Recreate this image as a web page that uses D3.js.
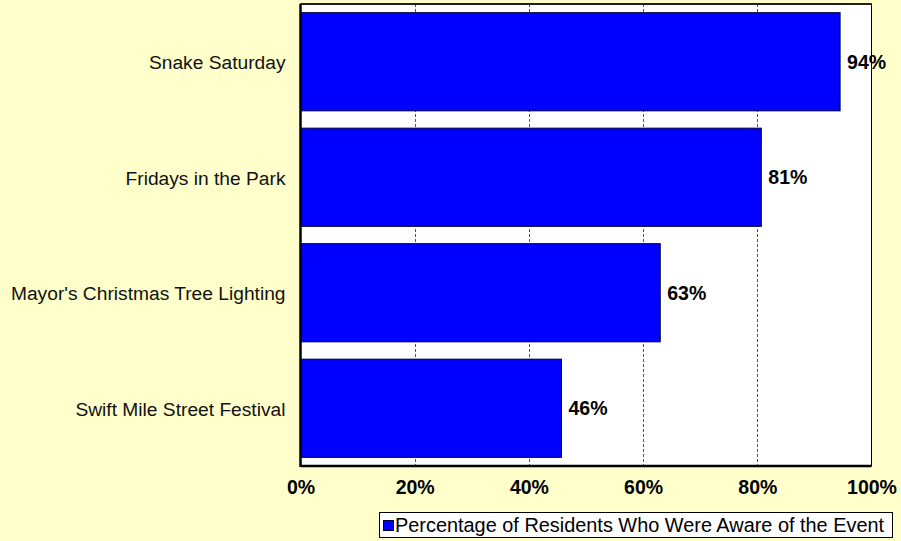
<!DOCTYPE html>
<html><head><meta charset="utf-8">
<script src="https://cdn.jsdelivr.net/npm/d3@7"></script>
<style>
html,body{margin:0;padding:0;background:#FFFFCC;}
svg{display:block;font-family:Arial,"Liberation Sans",sans-serif;}
</style></head><body>
<svg id="c" width="901" height="541"></svg>
<script>
const categories = ["Snake Saturday","Fridays in the Park","Mayor's Christmas Tree Lighting","Swift Mile Street Festival"];
const values = [94.5, 80.7, 63.0, 45.7];
const valueLabels = ["94%","81%","63%","46%"];
const ticks = [0,20,40,60,80,100];
const tickLabels = ["0%","20%","40%","60%","80%","100%"];
const seriesName = "Percentage of Residents Who Were Aware of the Event";

const svg = d3.select("#c");
const L=300.5, R=871.5, T=4, B=466;
const x = d3.scaleLinear().domain([0,100]).range([L,R]);
const y = d3.scaleBand().domain(categories).range([T,B]).paddingInner(0.15).paddingOuter(0.075);

svg.append("rect").attr("width",901).attr("height",541).attr("fill","#FFFFCC");
svg.append("rect").attr("x",L).attr("y",T).attr("width",R-L).attr("height",B-T).attr("fill","#fff");

// gridlines
svg.append("g").selectAll("line").data(ticks.slice(1,-1)).join("line")
  .attr("x1",d=>Math.round(x(d))+0.5).attr("x2",d=>Math.round(x(d))+0.5)
  .attr("y1",T).attr("y2",B)
  .attr("stroke","#555").attr("stroke-width",1).attr("stroke-dasharray","3,2");

// bars
svg.append("g").selectAll("rect").data(values).join("rect")
  .attr("x",L).attr("y",(d,i)=>y(categories[i]))
  .attr("width",d=>x(d)-L).attr("height",y.bandwidth())
  .attr("fill","#0000FF").attr("stroke","#000033").attr("stroke-width",1);

// value labels
svg.append("g").selectAll("text").data(values).join("text")
  .attr("x",d=>x(d)+7).attr("y",(d,i)=>y(categories[i])+y.bandwidth()/2)
  .attr("dy","0.36em").attr("font-size",19.5).attr("font-weight","bold").attr("fill","#000")
  .text((d,i)=>valueLabels[i]);

// frame
svg.append("rect").attr("x",L).attr("y",T).attr("width",R-L).attr("height",B-T)
  .attr("fill","none").attr("stroke","#000").attr("stroke-width",1);
svg.append("line").attr("x1",L).attr("x2",L).attr("y1",T).attr("y2",B+1).attr("stroke","#000").attr("stroke-width",2.5);
svg.append("line").attr("x1",L).attr("x2",R).attr("y1",B).attr("y2",B).attr("stroke","#000").attr("stroke-width",2.5);
svg.append("line").attr("x1",L).attr("x2",R).attr("y1",T).attr("y2",T).attr("stroke","#000").attr("stroke-width",1.5);

// x axis labels
const xAxis = d3.axisBottom(x).tickValues(ticks).tickFormat((d,i)=>tickLabels[i]).tickSize(0).tickPadding(14);
const gx = svg.append("g").attr("transform",`translate(0,${B})`).call(xAxis);
gx.select(".domain").remove();
gx.selectAll("text").attr("font-size",19.5).attr("font-weight","bold").attr("fill","#000").attr("font-family","Arial,'Liberation Sans',sans-serif");

// y axis labels
const yAxis = d3.axisLeft(y).tickSize(0).tickPadding(15);
const gy = svg.append("g").attr("transform",`translate(${L},0)`).call(yAxis);
gy.select(".domain").remove();
gy.selectAll("text").attr("font-size",19.2).attr("fill","#111").attr("font-family","Arial,'Liberation Sans',sans-serif").attr("dy","0.4em");

// legend
const lg = svg.append("g");
lg.append("rect").attr("x",379.5).attr("y",512.5).attr("width",513).attr("height",25)
  .attr("fill","#fff").attr("stroke","#000").attr("stroke-width",1);
lg.append("rect").attr("x",383.5).attr("y",520.5).attr("width",10).attr("height",10)
  .attr("fill","#0000FF").attr("stroke","#000033");
lg.append("text").attr("x",395).attr("y",525).attr("dy","0.36em").attr("font-size",19.9).attr("fill","#000").text(seriesName);
</script>
</body></html>
